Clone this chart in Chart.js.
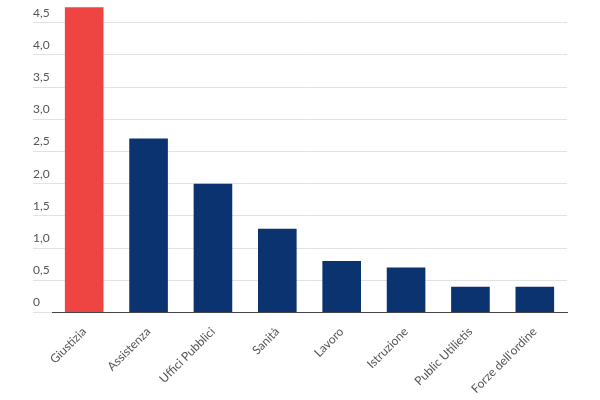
<!DOCTYPE html>
<html>
<head>
<meta charset="utf-8">
<script src="https://cdn.jsdelivr.net/npm/chart.js@4/dist/chart.umd.min.js"></script>
<style>
body { margin: 0; background: #fff; }
#wrap { width: 600px; height: 400px; }
</style>
</head>
<body>
<div id="wrap"><canvas id="c"></canvas></div>
<script>
var categories = ["Giustizia", "Assistenza", "Uffici Pubblici", "Sanità", "Lavoro", "Istruzione", "Public Utilietis", "Forze dell'ordine"];
var values = [5.2, 2.7, 2.0, 1.3, 0.8, 0.7, 0.4, 0.4];
var barColors = ["#ee4442", "#0a3370", "#0a3370", "#0a3370", "#0a3370", "#0a3370", "#0a3370", "#0a3370"];
var tickValues = [0, 0.5, 1, 1.5, 2, 2.5, 3, 3.5, 4, 4.5];

Chart.defaults.font.family = "Lato, 'Open Sans', sans-serif";
Chart.defaults.color = "#555";

new Chart(document.getElementById("c"), {
    type: "bar",
    data: {
        labels: categories,
        datasets: [{
            data: values,
            backgroundColor: barColors,
            categoryPercentage: 1,
            barPercentage: 0.6
        }]
    },
    options: {
        responsive: true,
        maintainAspectRatio: false,
        animation: false,
        layout: { padding: { left: 33, right: 33, top: 0, bottom: 0 } },
        plugins: { legend: { display: false }, tooltip: { enabled: false } },
        scales: {
            x: {
                grid: { display: false },
                border: { color: "#444", width: 1 },
                ticks: { maxRotation: 45, minRotation: 45, font: { size: 12 }, color: "#555", padding: 4 }
            },
            y: {
                min: 0,
                max: 4.74,
                afterFit: function(s) { s.width = 19; },
                afterBuildTicks: function(s) {
                    s.ticks = tickValues.map(function(v) { return { value: v }; });
                },
                border: { display: false },
                grid: { color: "#e2e2e2", tickLength: 19, drawTicks: true },
                ticks: {
                    crossAlign: "far",
                    padding: 0,
                    labelOffset: -10,
                    font: { size: 12 },
                    color: "#555",
                    callback: function(v) {
                        return v === 0 ? "0" : v.toFixed(1).replace(".", ",");
                    }
                }
            }
        }
    }
});
</script>
</body>
</html>
